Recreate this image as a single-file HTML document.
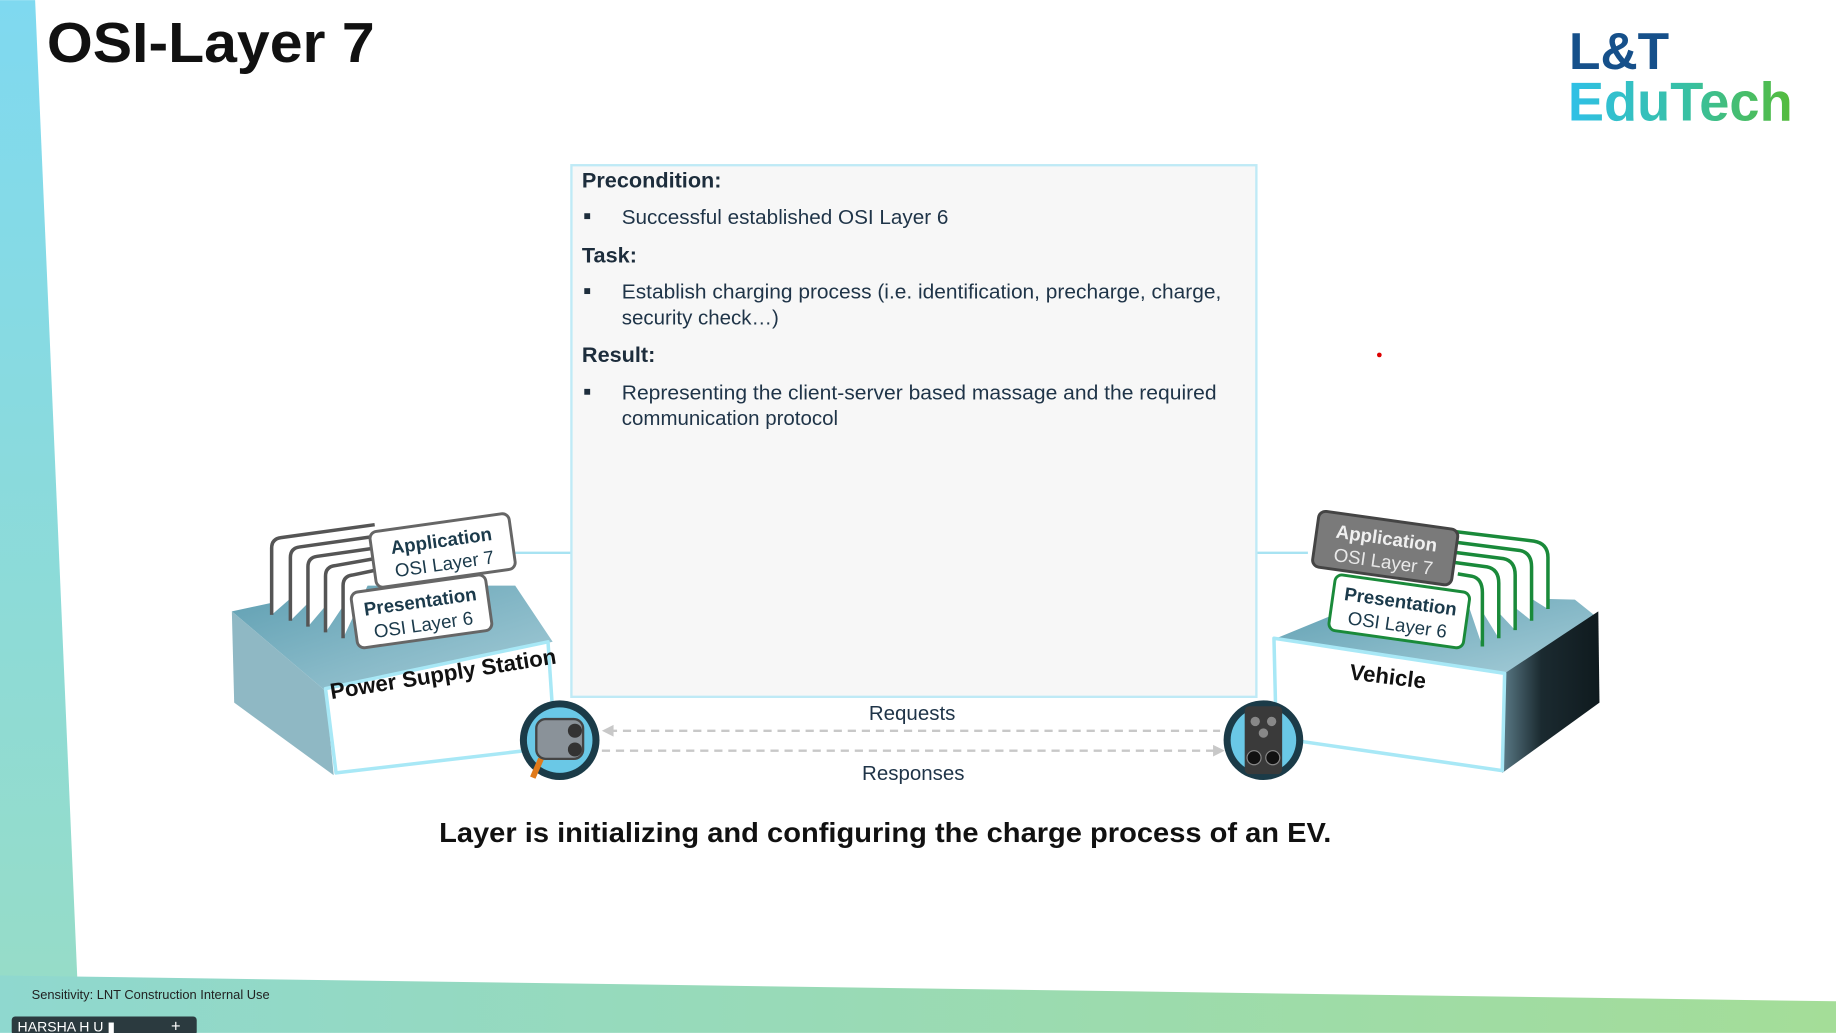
<!DOCTYPE html>
<html><head><meta charset="utf-8"><style>
html,body{margin:0;padding:0;background:#fff;overflow:hidden}
svg{display:block}
text{font-family:"Liberation Sans",sans-serif}
</style></head><body>
<svg width="1836" height="1033" viewBox="0 0 1568 882" xmlns="http://www.w3.org/2000/svg">
<defs>
<linearGradient id="lstrip" x1="0" y1="0" x2="0" y2="1"><stop offset="0" stop-color="#7fd9f0"/><stop offset="1" stop-color="#96dcc8"/></linearGradient>
<linearGradient id="band" x1="0" y1="0" x2="1" y2="0"><stop offset="0" stop-color="#8fd8cf"/><stop offset="1" stop-color="#a4dd98"/></linearGradient>
<linearGradient id="edu" x1="0" y1="0" x2="1" y2="0"><stop offset="0" stop-color="#2fc0e8"/><stop offset="0.55" stop-color="#38c0a0"/><stop offset="1" stop-color="#55bb3a"/></linearGradient>
<linearGradient id="tealtop" x1="0" y1="0" x2="1" y2="1"><stop offset="0" stop-color="#5f9fb2"/><stop offset="1" stop-color="#a6cdd8"/></linearGradient>
<linearGradient id="darkside" x1="0" y1="0" x2="1" y2="0"><stop offset="0" stop-color="#5a7a86"/><stop offset="0.4" stop-color="#1b2a30"/><stop offset="1" stop-color="#0f1a1e"/></linearGradient>
</defs>
<rect width="1568" height="882" fill="#fff"/>
<polygon points="0,0 30,0 66,835 0,835" fill="url(#lstrip)"/>
<polygon points="0,833 1568,855 1568,882 0,882" fill="url(#band)"/>
<text x="27" y="853" font-size="11" fill="#222">Sensitivity: LNT Construction Internal Use</text>
<rect x="10" y="868" width="158" height="16" rx="3" fill="#2b3a3f"/>
<text x="15" y="881" font-size="12" fill="#fff">HARSHA H U ▮</text>
<text x="146" y="881" font-size="14" fill="#fff">+</text>
<text x="40" y="53" font-size="48" font-weight="bold" fill="#111" textLength="280" lengthAdjust="spacingAndGlyphs">OSI-Layer 7</text>
<text x="1340" y="59" font-size="44" font-weight="bold" fill="#16508a">L&amp;T</text>
<text x="1339" y="103" font-size="47" font-weight="bold" fill="url(#edu)" textLength="192" lengthAdjust="spacingAndGlyphs">EduTech</text>
<circle cx="1178" cy="303" r="2" fill="#d00"/>
<line x1="440" y1="472" x2="488" y2="472" stroke="#a8e3f2" stroke-width="2"/>
<line x1="1073" y1="472" x2="1117" y2="472" stroke="#a8e3f2" stroke-width="2"/>
<rect x="488" y="141" width="585" height="454" fill="#f7f7f7" stroke="#bfeaf6" stroke-width="2"/>
<g fill="#1f3448" font-size="17.5">
<text x="497" y="160" font-weight="bold" font-size="18.5" fill="#1d2d3c">Precondition:</text>
<rect x="499" y="182" width="5" height="5" fill="#1d2d3c"/>
<text x="531" y="191" textLength="279" lengthAdjust="spacingAndGlyphs">Successful established OSI Layer 6</text>
<text x="497" y="224" font-weight="bold" font-size="18.5" fill="#1d2d3c">Task:</text>
<rect x="499" y="246" width="5" height="5" fill="#1d2d3c"/>
<text x="531" y="255" textLength="512" lengthAdjust="spacingAndGlyphs">Establish charging process (i.e. identification, precharge, charge,</text>
<text x="531" y="277">security check…)</text>
<text x="497" y="309" font-weight="bold" font-size="18.5" fill="#1d2d3c">Result:</text>
<rect x="499" y="332" width="5" height="5" fill="#1d2d3c"/>
<text x="531" y="341" textLength="508" lengthAdjust="spacingAndGlyphs">Representing the client-server based massage and the required</text>
<text x="531" y="363">communication protocol</text>
</g>
<polygon points="198,522 300,500 440,500 472,548 278,590" fill="url(#tealtop)"/>
<polygon points="198,522 278,590 285,662 200,600" fill="#8fb8c4"/>
<polygon points="278,588 468,548 474,638 287,660" fill="#fff" stroke="#a8e8f6" stroke-width="3" stroke-linejoin="round"/>
<text transform="translate(283,597) rotate(-9)" font-size="19" font-weight="bold" fill="#111">Power Supply Station</text>
<g fill="#fff" stroke="#555" stroke-width="3">
<path d="M232,525 L232,468 Q232,460 240,459 L320,448"/>
<path d="M248,530 L248,476 Q248,468 256,467 L320,458"/>
<path d="M263,535 L263,484 Q263,476 271,475 L320,468"/>
<path d="M278,540 L278,492 Q278,484 286,483 L320,477"/>
<path d="M293,545 L293,500 Q293,492 301,491 L320,487"/>
</g>
<g transform="translate(378,470) rotate(-8)">
<rect x="-60" y="-24" width="120" height="48" rx="6" fill="#fff" stroke="#666" stroke-width="2.5"/>
<text x="0" y="-3" text-anchor="middle" font-size="16" font-weight="bold" fill="#1b3a4b">Application</text>
<text x="0" y="17" text-anchor="middle" font-size="16" fill="#1b3a4b">OSI Layer 7</text>
</g>
<g transform="translate(360,522) rotate(-8)">
<rect x="-58" y="-24" width="116" height="48" rx="6" fill="#fff" stroke="#666" stroke-width="2.5"/>
<text x="0" y="-3" text-anchor="middle" font-size="16" font-weight="bold" fill="#1b3a4b">Presentation</text>
<text x="0" y="17" text-anchor="middle" font-size="16" fill="#1b3a4b">OSI Layer 6</text>
</g>
<polygon points="1090,545 1180,508 1345,512 1365,528 1285,575" fill="url(#tealtop)"/>
<polygon points="1285,575 1365,522 1366,600 1283,660" fill="url(#darkside)"/>
<polygon points="1088,545 1285,575 1283,658 1090,630" fill="#fff" stroke="#a8e8f6" stroke-width="3" stroke-linejoin="round"/>
<text transform="translate(1152,580) rotate(7)" font-size="19" font-weight="bold" fill="#111">Vehicle</text>
<g fill="#fff" stroke="#1a8a3a" stroke-width="3">
<path d="M1210,450 L1310,462 Q1322,464 1322,476 L1322,520"/>
<path d="M1220,460 L1298,470 Q1308,472 1308,484 L1308,530"/>
<path d="M1230,470 L1284,477 Q1294,479 1294,491 L1294,538"/>
<path d="M1240,480 L1270,484 Q1280,486 1280,498 L1280,545"/>
<path d="M1245,490 L1257,492 Q1266,494 1266,506 L1266,552"/>
</g>
<g transform="translate(1195,522) rotate(8)">
<rect x="-58" y="-24" width="116" height="48" rx="6" fill="#fff" stroke="#1a8a3a" stroke-width="2.5"/>
<text x="0" y="-3" text-anchor="middle" font-size="16" font-weight="bold" fill="#1b3a4b">Presentation</text>
<text x="0" y="17" text-anchor="middle" font-size="16" fill="#1b3a4b">OSI Layer 6</text>
</g>
<g transform="translate(1183,468) rotate(8)">
<rect x="-60" y="-24" width="120" height="48" rx="6" fill="#7a7a7a" stroke="#444" stroke-width="2.5"/>
<text x="0" y="-3" text-anchor="middle" font-size="16" font-weight="bold" fill="#f0f0f0">Application</text>
<text x="0" y="17" text-anchor="middle" font-size="16" fill="#e8e8e8">OSI Layer 7</text>
</g>
<line x1="520" y1="624" x2="1042" y2="624" stroke="#c8c8c8" stroke-width="2" stroke-dasharray="7,5"/>
<polygon points="514,624 524,619 524,629" fill="#c8c8c8"/>
<line x1="514" y1="641" x2="1038" y2="641" stroke="#c8c8c8" stroke-width="2" stroke-dasharray="7,5"/>
<polygon points="1046,641 1036,636 1036,646" fill="#c8c8c8"/>
<text x="779" y="615" text-anchor="middle" font-size="17.5" fill="#1f3448">Requests</text>
<text x="780" y="666" text-anchor="middle" font-size="17.5" fill="#1f3448">Responses</text>
<circle cx="478" cy="632" r="34" fill="#1b3b48"/>
<circle cx="478" cy="632" r="28" fill="#6ac8e6"/>
<rect x="458" y="614" width="40" height="34" rx="8" fill="#8a9299" stroke="#444" stroke-width="2"/>
<circle cx="491" cy="624" r="6" fill="#333"/><circle cx="491" cy="640" r="6" fill="#333"/>
<path d="M462,648 L455,664" stroke="#e07a1a" stroke-width="5"/>
<circle cx="1079" cy="632" r="34" fill="#1b3b48"/>
<circle cx="1079" cy="632" r="28" fill="#6ac8e6"/>
<rect x="1063" y="603" width="32" height="58" rx="4" fill="#3a3a3a"/>
<circle cx="1072" cy="616" r="4" fill="#888"/><circle cx="1086" cy="616" r="4" fill="#888"/><circle cx="1079" cy="626" r="4" fill="#888"/>
<circle cx="1071" cy="647" r="6" fill="#111" stroke="#888"/><circle cx="1087" cy="647" r="6" fill="#111" stroke="#888"/>
<text x="756" y="719" text-anchor="middle" font-size="24" font-weight="bold" fill="#111" textLength="762" lengthAdjust="spacingAndGlyphs">Layer is initializing and configuring the charge process of an EV.</text>
</svg>
</body></html>
